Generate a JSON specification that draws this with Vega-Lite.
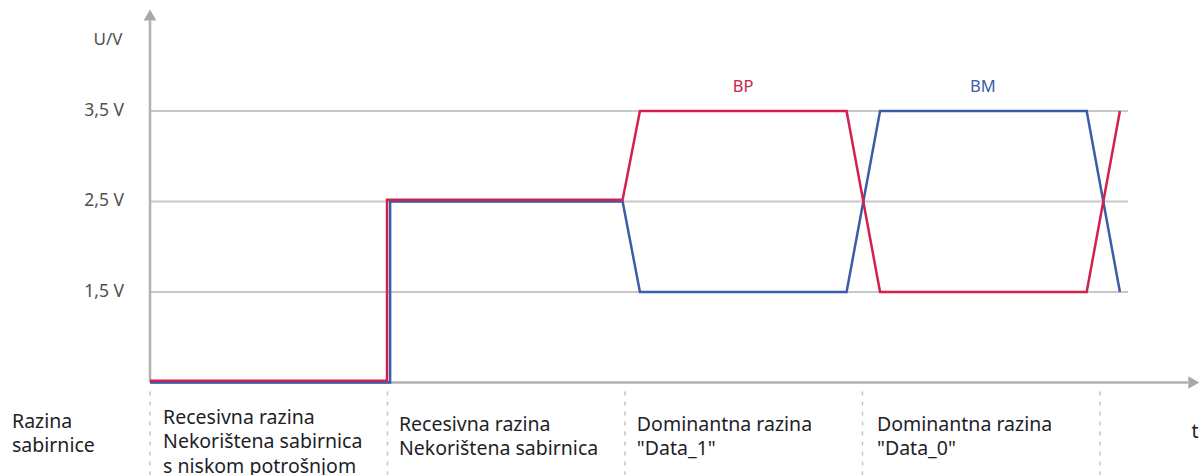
{
  "$schema": "https://vega.github.io/schema/vega-lite/v6.json",
  "width": 1054,
  "height": 475,
  "autosize": "none",
  "padding": {"left": 150, "top": 0, "right": 0, "bottom": 0},
  "background": "white",
  "config": {"view": {"stroke": null}, "font": "Noto Sans"},
  "datasets": {
    "signals": [
      {"series": "BM", "t": 0, "v": 0.5},
      {"series": "BM", "t": 1.011, "v": 0.5},
      {"series": "BM", "t": 1.011, "v": 2.5},
      {"series": "BM", "t": 1.99, "v": 2.5},
      {"series": "BM", "t": 2.063, "v": 1.5},
      {"series": "BM", "t": 2.933, "v": 1.5},
      {"series": "BM", "t": 3.074, "v": 3.5},
      {"series": "BM", "t": 3.944, "v": 3.5},
      {"series": "BM", "t": 4.084, "v": 1.5},
      {"series": "BP", "t": 0, "v": 0.52},
      {"series": "BP", "t": 0.998, "v": 0.52},
      {"series": "BP", "t": 0.998, "v": 2.52},
      {"series": "BP", "t": 1.99, "v": 2.52},
      {"series": "BP", "t": 2.063, "v": 3.5},
      {"series": "BP", "t": 2.933, "v": 3.5},
      {"series": "BP", "t": 3.074, "v": 1.5},
      {"series": "BP", "t": 3.944, "v": 1.5},
      {"series": "BP", "t": 4.084, "v": 3.5}
    ],
    "levels": [
      {"v": 1.5, "label": "1,5 V"},
      {"v": 2.5, "label": "2,5 V"},
      {"v": 3.5, "label": "3,5 V"}
    ],
    "phases": [{"t": 0}, {"t": 1}, {"t": 2}, {"t": 3}, {"t": 4}],
    "seriesLabels": [
      {"series": "BP", "t": 2.497, "v": 3.765},
      {"series": "BM", "t": 3.507, "v": 3.765}
    ],
    "phaseLabels": [
      {"t": -0.581, "v": 0.064, "label": "Razina\nsabirnice"},
      {"t": 0.055, "v": 0.108, "label": "Recesivna razina\nNekorištena sabirnica\ns niskom potrošnjom"},
      {"t": 1.048, "v": 0.031, "label": "Recesivna razina\nNekorištena sabirnica"},
      {"t": 2.05, "v": 0.031, "label": "Dominantna razina\n\"Data_1\""},
      {"t": 3.061, "v": 0.031, "label": "Dominantna razina\n\"Data_0\""}
    ]
  },
  "layer": [
    {
      "data": {"name": "levels"},
      "mark": {"type": "rule", "color": "#c8c8c8", "strokeWidth": 2},
      "encoding": {
        "y": {"field": "v", "type": "quantitative", "scale": {"domain": [-0.522, 4.726], "nice": false, "zero": false}, "axis": null},
        "x": {"datum": 0, "type": "quantitative", "scale": {"domain": [0, 4.438], "nice": false, "zero": false}, "axis": null},
        "x2": {"datum": 4.118}
      }
    },
    {
      "data": {"name": "levels"},
      "mark": {"type": "text", "fontSize": 17.5, "align": "right", "baseline": "middle", "color": "#505050"},
      "encoding": {
        "y": {"field": "v", "type": "quantitative", "axis": null},
        "x": {"datum": -0.109, "type": "quantitative", "axis": null},
        "text": {"field": "label"}
      }
    },
    {
      "data": {"name": "phases"},
      "mark": {"type": "rule", "color": "#c4c4c4", "strokeWidth": 1.5, "strokeDash": [4, 6]},
      "encoding": {
        "x": {"field": "t", "type": "quantitative", "axis": null},
        "y": {"datum": 0.4, "type": "quantitative", "axis": null},
        "y2": {"datum": -0.53}
      }
    },
    {
      "data": {"values": [{"axis": "U/V"}]},
      "mark": {"type": "rule", "color": "#b0b0b0", "strokeWidth": 2.5},
      "encoding": {
        "x": {"datum": 0, "type": "quantitative", "axis": null},
        "y": {"datum": 0.5, "type": "quantitative", "axis": null},
        "y2": {"datum": 4.5}
      }
    },
    {
      "data": {"values": [{"axis": "t"}]},
      "mark": {"type": "rule", "color": "#b0b0b0", "strokeWidth": 2.5},
      "encoding": {
        "x": {"datum": 0, "type": "quantitative", "axis": null},
        "x2": {"datum": 4.37},
        "y": {"datum": 0.5, "type": "quantitative", "axis": null}
      }
    },
    {
      "data": {"values": [{"axis": "U/V"}]},
      "mark": {"type": "point", "shape": "triangle-up", "filled": true, "color": "#a8a8a8", "size": 160, "opacity": 1},
      "encoding": {
        "x": {"datum": 0, "type": "quantitative", "axis": null},
        "y": {"datum": 4.56, "type": "quantitative", "axis": null}
      }
    },
    {
      "data": {"values": [{"axis": "t"}]},
      "mark": {"type": "point", "shape": "triangle-right", "filled": true, "color": "#a8a8a8", "size": 160, "opacity": 1},
      "encoding": {
        "x": {"datum": 4.395, "type": "quantitative", "axis": null},
        "y": {"datum": 0.5, "type": "quantitative", "axis": null}
      }
    },
    {
      "data": {"name": "signals"},
      "transform": [{"filter": "datum.series === 'BM'"}],
      "mark": {"type": "line", "strokeWidth": 2.5, "strokeJoin": "miter"},
      "encoding": {
        "x": {"field": "t", "type": "quantitative", "axis": null},
        "y": {"field": "v", "type": "quantitative", "axis": null},
        "order": {"value": null},
        "color": {"field": "series", "type": "nominal", "scale": {"domain": ["BP", "BM"], "range": ["#d0214f", "#3b5ca8"]}, "legend": null}
      }
    },
    {
      "data": {"name": "signals"},
      "transform": [{"filter": "datum.series === 'BP'"}],
      "mark": {"type": "line", "strokeWidth": 2.5, "strokeJoin": "miter"},
      "encoding": {
        "x": {"field": "t", "type": "quantitative", "axis": null},
        "y": {"field": "v", "type": "quantitative", "axis": null},
        "order": {"value": null},
        "color": {"field": "series", "type": "nominal", "legend": null}
      }
    },
    {
      "data": {"name": "seriesLabels"},
      "mark": {"type": "text", "fontSize": 16.5, "align": "center", "baseline": "middle"},
      "encoding": {
        "x": {"field": "t", "type": "quantitative", "axis": null},
        "y": {"field": "v", "type": "quantitative", "axis": null},
        "text": {"field": "series"},
        "color": {"field": "series", "type": "nominal", "legend": null}
      }
    },
    {
      "data": {"name": "phaseLabels"},
      "mark": {"type": "text", "fontSize": 19.5, "align": "left", "baseline": "middle", "lineBreak": "\n", "lineHeight": 24.5, "color": "#1e1e28"},
      "encoding": {
        "x": {"field": "t", "type": "quantitative", "axis": null},
        "y": {"field": "v", "type": "quantitative", "axis": null},
        "text": {"field": "label"}
      }
    },
    {
      "data": {"values": [{"label": "U/V"}]},
      "mark": {"type": "text", "fontSize": 17, "align": "center", "baseline": "middle", "color": "#505050"},
      "encoding": {
        "x": {"datum": -0.177, "type": "quantitative", "axis": null},
        "y": {"datum": 4.284, "type": "quantitative", "axis": null},
        "text": {"field": "label"}
      }
    },
    {
      "data": {"values": [{"label": "t"}]},
      "mark": {"type": "text", "fontSize": 19.5, "align": "center", "baseline": "middle", "color": "#1e1e28"},
      "encoding": {
        "x": {"datum": 4.4, "type": "quantitative", "axis": null},
        "y": {"datum": -0.047, "type": "quantitative", "axis": null},
        "text": {"field": "label"}
      }
    }
  ]
}
